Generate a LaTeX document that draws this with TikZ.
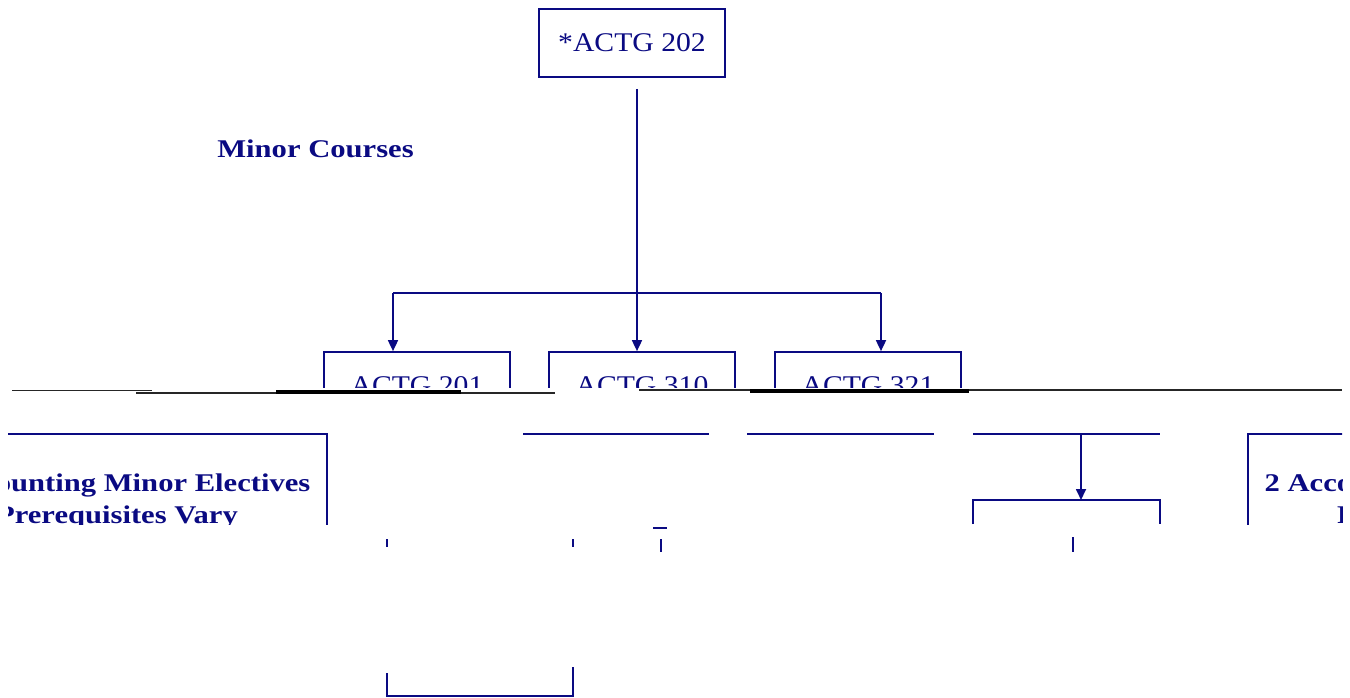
\documentclass[tikz,border=0pt]{standalone}
\usepackage{graphicx}
\usepackage{fontspec}
\setmainfont{Liberation Serif}
\usetikzlibrary{arrows.meta}
\definecolor{navy}{RGB}{10,10,130}
\newcommand\regtxt[1]{\scalebox{1.1}[1]{#1}}
\newcommand\boldtxt[1]{\scalebox{1.2}[1]{#1}}
\begin{document}
\begin{tikzpicture}[x=1pt,y=-1pt,
  box/.style={draw=navy, line width=1.7pt, minimum width=186pt, minimum height=68pt, inner sep=0pt, text=navy, font=\fontsize{27}{30}\selectfont},
  head/.style={text=navy, font=\fontsize{25.5}{28}\selectfont\bfseries, inner sep=0pt},
  wire/.style={draw=navy, line width=1.7pt},
  link/.style={wire, -{Triangle[length=11pt,width=10pt]}},
  blk/.style={draw=black!85, line width=1.6pt},
  blkthick/.style={draw=black, line width=3.2pt}]
\useasboundingbox (0,0) rectangle (1350,698);

% top band
\begin{scope}
\clip (0,0) rectangle (1350,387);
\node[box] (a202) at (632,43) {\regtxt{*ACTG 202}};
\node[box] (a201) at (417,386) {\regtxt{ACTG 201}};
\node[box] (a310) at (642,386) {\regtxt{ACTG 310}};
\node[box] (a321) at (868,386) {\regtxt{ACTG 321}};
\node[head, anchor=base] (minor) at (315.5,158) {\boldtxt{Minor Courses}};
\coordinate (s0) at (637,89);
\coordinate (hl) at (393,293);
\coordinate (hr) at (881,293);
\draw[link] (s0) -- (s0 |- a310.north);
\draw[wire] (hl) -- (hr);
\draw[link] (hl) -- (hl |- a201.north);
\draw[link] (hr) -- (hr |- a321.north);
\end{scope}

% black bars
\coordinate (k1) at (12,390.5);  \coordinate (k2) at (152,390.5);
\coordinate (k3) at (136,393);   \coordinate (k4) at (555,393);
\coordinate (k5) at (276,392);   \coordinate (k6) at (461,392);
\coordinate (k7) at (639,390);   \coordinate (k8) at (1342,390);
\coordinate (k9) at (750,391);   \coordinate (k10) at (969,391);
\draw[blk] (k1) -- (k2);
\draw[blk] (k3) -- (k4);
\draw[blkthick] (k5) -- (k6);
\draw[blk] (k7) -- (k8);
\draw[blkthick] (k9) -- (k10);

% middle band
\begin{scope}
\clip (8,395) rectangle (1342,524);
\draw[wire] (-93,434) rectangle (327,600);
\draw[wire] (1248,434) rectangle (1668,600);
\node[head, anchor=base] (lt1) at (117,491) {\boldtxt{3 Accounting Minor Electives}};
\node[head, anchor=base] (lt2) at (117,523) {\boldtxt{Prerequisites Vary}};
\node[head, anchor=base] (rt1) at (1458,491) {\boldtxt{2 Accounting Minor Electives}};
\node[head, anchor=base] (rt2) at (1458,523) {\boldtxt{Prerequisites Vary}};
\draw[wire] (523,434) -- (709,434);
\draw[wire] (747,434) -- (934,434);
\draw[wire] (973,434) -- (1160,434);
\coordinate (bt) at (1081,434);
\coordinate (bb) at (1081,500);
\draw[link] (bt) -- (bb);
\draw[wire] (973,524) |- (1160,500) -- (1160,524);
\end{scope}

% bottom fragments
\draw[wire] (653,528) -- (667,528);
\draw[wire] (661,539) -- (661,552);
\draw[wire] (1073,537) -- (1073,552);
\draw[wire] (387,539) -- (387,547);
\draw[wire] (573,539) -- (573,547);
\draw[wire] (387,673) |- (573,696) -- (573,667);
\end{tikzpicture}
\end{document}
